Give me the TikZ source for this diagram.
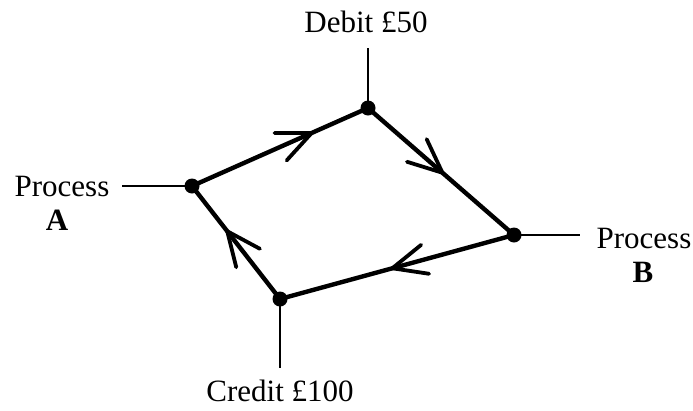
\documentclass[tikz,border=0pt]{standalone}
\usepackage{fontspec}
\setmainfont{Liberation Serif}
\usetikzlibrary{decorations.markings}
\tikzset{
  vertex/.style={circle,fill=black,inner sep=0pt,minimum size=15pt},
  lbl/.style={font=\fontsize{31}{34}\selectfont,inner sep=0pt},
  blbl/.style={font=\fontsize{31}{34}\selectfont\bfseries,inner sep=0pt},
  stub/.style={line width=2.8pt},
  edge/.style={line width=4.4pt},
  chevron/.style={postaction={decorate,decoration={markings,
      mark=at position #1 with {\draw[line width=3.8pt,line cap=round,line join=miter]
        (-34,15) -- (0,0) -- (-34,-15);}}}}
}
\begin{document}
\begin{tikzpicture}[x=1pt,y=-1pt]
  \useasboundingbox (0,0) rectangle (693,410);
  % junction points of the cycle
  \node[vertex] (T) at (368,108) {};
  \node[vertex] (A) at (192,186) {};
  \node[vertex] (B) at (514,235) {};
  \node[vertex] (C) at (280,299) {};
  % free ends of the stubs
  \coordinate (Tend) at (368,48);
  \coordinate (Aend) at (122,186);
  \coordinate (Bend) at (580,235);
  \coordinate (Cend) at (280,368);
  % labels
  \node[lbl] (debit) at (366,22) {Debit £50};
  \node[lbl] (pa) at (62,186) {Process};
  \node[blbl] (pal) at (57,220) {A};
  \node[lbl] (pb) at (644,238) {Process};
  \node[blbl] (pbl) at (643,272) {B};
  \node[lbl] (credit) at (280,391) {Credit £100};
  % stubs
  \draw[stub] (T.center) -- (Tend);
  \draw[stub] (A.center) -- (Aend);
  \draw[stub] (B.center) -- (Bend);
  \draw[stub] (C.center) -- (Cend);
  % cycle edges with direction marks
  \draw[edge,chevron=0.68] (A.center) -- (T.center);
  \draw[edge,chevron=0.51] (T.center) -- (B.center);
  \draw[edge,chevron=0.52] (B.center) -- (C.center);
  \draw[edge,chevron=0.60] (C.center) -- (A.center);
\end{tikzpicture}
\end{document}
